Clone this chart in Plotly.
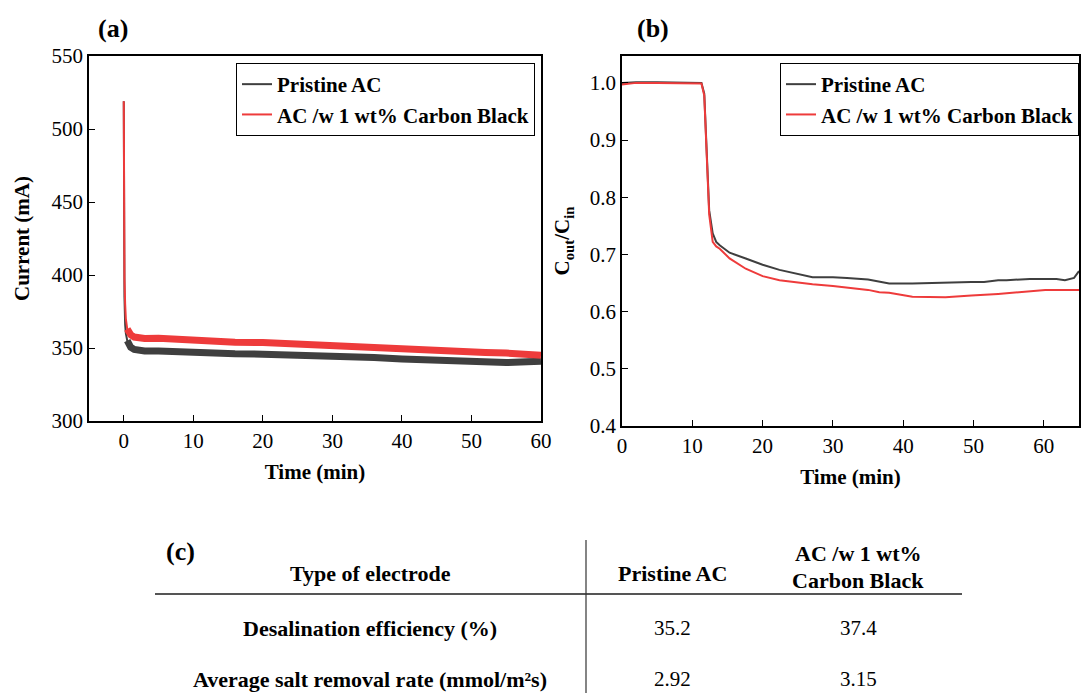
import plotly.graph_objects as go

# ---------------- data: panel (a) current vs time ----------------
t_spike = [0.0, 0.02, 0.05, 0.1, 0.2, 0.3, 0.5, 0.8]
spike_pristine = [519, 470, 420, 385, 366, 360, 355, 352]
spike_cb = [519, 480, 430, 398, 380, 370, 363, 360.5]

t_a = [0.5, 0.8, 1, 1.5, 2, 3, 5, 7, 10, 13, 16, 20, 23, 26, 30, 33, 36,
       40, 43, 46, 50, 52, 55, 58, 60]
cur_pristine = [355, 352, 350.5, 349, 348.5, 348, 348, 347.5, 347, 346.5, 346,
                345.8, 345.5, 345.5, 345, 344.5, 343.5, 342.5, 342, 341.5, 340.5,
                340, 340, 340.5, 341]
cur_cb = [363, 360.5, 359, 357.5, 357, 356.5, 356.7, 356, 355, 354.5, 354,
          353.7, 353, 352.3, 351, 350.5, 350, 349, 348.8, 348.3, 347.3, 347,
          346.5, 345.5, 345]

# ---------------- data: panel (b) Cout/Cin vs time ----------------
t_b = [0, 1, 2, 5, 8, 10, 11, 11.3, 11.7, 11.9, 12.1, 12.4, 12.9, 13.4, 13.9,
       15.3, 17.6, 20, 22.4, 25, 27.1, 30, 32, 35, 36.6, 38, 41.3, 46, 49.7,
       51.5, 53.5, 54.7, 56.8, 58, 60.2, 61.8, 63, 64.3, 65]
c_pristine = [1.0, 1.001, 1.001, 1.001, 1.001, 1.001, 1.001, 1.0, 0.981, 0.923,
              0.836, 0.777, 0.737, 0.722, 0.716, 0.703, 0.693, 0.682, 0.673,
              0.666, 0.660, 0.660, 0.659, 0.656, 0.652, 0.649, 0.649, 0.651,
              0.652, 0.652, 0.655, 0.655, 0.657, 0.657, 0.657, 0.657, 0.655,
              0.659, 0.671]
c_cb = [0.997, 0.998, 1.0, 1.0, 1.0, 1.0, 1.0, 0.999, 0.978, 0.918, 0.830,
        0.770, 0.722, 0.714, 0.710, 0.693, 0.675, 0.662, 0.655, 0.651, 0.648,
        0.645, 0.642, 0.638, 0.634, 0.633, 0.626, 0.625, 0.628, 0.630, 0.631,
        0.632, 0.634, 0.635, 0.638, 0.638, 0.638, 0.638, 0.638]

series_names = ["Pristine AC", "AC /w 1 wt% Carbon Black"]
series_colors = ["#3f3f3f", "#ee3b3b"]

# ---------------- data: table (c) ----------------
table_header = ["Type of electrode", "Pristine AC", "AC /w 1 wt%", "Carbon Black"]
table_rows = ["Desalination efficiency (%)", "Average salt removal rate (mmol/m²s)"]
table_pristine = ["35.2", "2.92"]
table_cb = ["37.4", "3.15"]

W, H = 1081, 693
SERIF = "Liberation Serif, Times New Roman, serif"


def px(x):
    return x / W


def py(y):
    return 1 - y / H


fig = go.Figure()

# panel (a)
for t_s, s_vals, vals, name, col in [
    (t_spike, spike_pristine, cur_pristine, series_names[0], series_colors[0]),
    (t_spike, spike_cb, cur_cb, series_names[1], series_colors[1]),
]:
    fig.add_trace(go.Scatter(x=t_s, y=s_vals, mode="lines", name=name,
                             line=dict(color=col, width=2),
                             xaxis="x", yaxis="y", legend="legend"))
    fig.add_trace(go.Scatter(x=t_a, y=vals, mode="lines", name=name,
                             line=dict(color=col, width=7), showlegend=False,
                             xaxis="x", yaxis="y"))

# panel (b)
for vals, name, col in [(c_pristine, series_names[0], series_colors[0]),
                        (c_cb, series_names[1], series_colors[1])]:
    fig.add_trace(go.Scatter(x=t_b, y=vals, mode="lines", name=name,
                             line=dict(color=col, width=2),
                             xaxis="x2", yaxis="y2", legend="legend2"))

axis_common = dict(showgrid=False, zeroline=False, showline=True, mirror=True,
                   automargin=False,
                   linecolor="black", linewidth=1.5, ticks="inside", ticklen=6,
                   tickwidth=1.2, tickcolor="black",
                   tickfont=dict(family=SERIF, size=21, color="black"))
title_font = dict(family=SERIF, size=21, color="black", weight="bold")
legend_font = dict(family=SERIF, size=21, color="black", weight="bold")

fig.update_layout(
    width=W, height=H,
    margin=dict(l=0, r=0, t=0, b=0, autoexpand=False),
    paper_bgcolor="white", plot_bgcolor="white",
    xaxis=dict(domain=[px(89), px(541)], range=[-5, 60], tick0=0, dtick=10,
               anchor="y",
               title=dict(text="Time (min)", font=title_font, standoff=12),
               **axis_common),
    yaxis=dict(domain=[py(421), py(56)], range=[300, 550], dtick=50,
               anchor="x",
               title=dict(text="Current (mA)", font=title_font, standoff=16),
               **axis_common),
    xaxis2=dict(domain=[px(622), px(1079)], range=[0, 65], tick0=0, dtick=10,
                anchor="y2",
                title=dict(text="Time (min)", font=title_font, standoff=12),
                **axis_common),
    yaxis2=dict(domain=[py(426), py(56)], range=[0.4, 1.047], dtick=0.1,
                tickformat=".1f", anchor="x2",
                title=dict(text="C<sub>out</sub>/C<sub>in</sub>", font=title_font,
                           standoff=14),
                **axis_common),
    legend=dict(x=px(535), y=py(63), xanchor="right", yanchor="top",
                bgcolor="white", bordercolor="black", borderwidth=1,
                font=legend_font, tracegroupgap=0),
    legend2=dict(x=px(1079), y=py(63), xanchor="right", yanchor="top",
                 bgcolor="white", bordercolor="black", borderwidth=1,
                 font=legend_font, tracegroupgap=0),
)

ann = []
# panel labels
for txt, x, y in [("(a)", 113, 28), ("(b)", 653, 28), ("(c)", 180, 551)]:
    ann.append(dict(text=txt, x=px(x), y=py(y), xanchor="center", yanchor="middle",
                    xref="paper", yref="paper", showarrow=False,
                    font=dict(family=SERIF, size=26, color="black", weight="bold")))

# table (c)
col_x = [370, 672, 858]
bold_t = dict(family=SERIF, size=22, color="black", weight="bold")
for txt, x, y in [(table_header[0], col_x[0], 573), (table_header[1], col_x[1], 573),
                  (table_header[2], col_x[2], 553), (table_header[3], col_x[2], 580)]:
    ann.append(dict(text=txt, x=px(x), y=py(y), xanchor="center", yanchor="middle",
                    xref="paper", yref="paper", showarrow=False, font=bold_t))
for i, (lbl, v1, v2) in enumerate(zip(table_rows, table_pristine, table_cb)):
    yy = [628, 679][i]
    ann.append(dict(text=lbl, x=px(col_x[0]), y=py(yy), xanchor="center",
                    yanchor="middle", xref="paper", yref="paper",
                    showarrow=False, font=bold_t))
    for v, cx in [(v1, col_x[1]), (v2, col_x[2])]:
        ann.append(dict(text=v, x=px(cx), y=py(yy), xanchor="center",
                        yanchor="middle", xref="paper", yref="paper",
                        showarrow=False,
                        font=dict(family=SERIF, size=21, color="black")))

fig.update_layout(annotations=ann)

fig.add_shape(type="line", xref="paper", yref="paper",
              x0=px(155), x1=px(962), y0=py(594), y1=py(594),
              line=dict(color="#555555", width=2))
fig.add_shape(type="line", xref="paper", yref="paper",
              x0=px(586), x1=px(586), y0=py(540), y1=py(693),
              line=dict(color="#333333", width=1.2))

fig.write_html(
    "out.html",
    config={"displayModeBar": False},
    post_script="document.body.style.margin='0px';document.body.style.overflow='hidden';",
)
